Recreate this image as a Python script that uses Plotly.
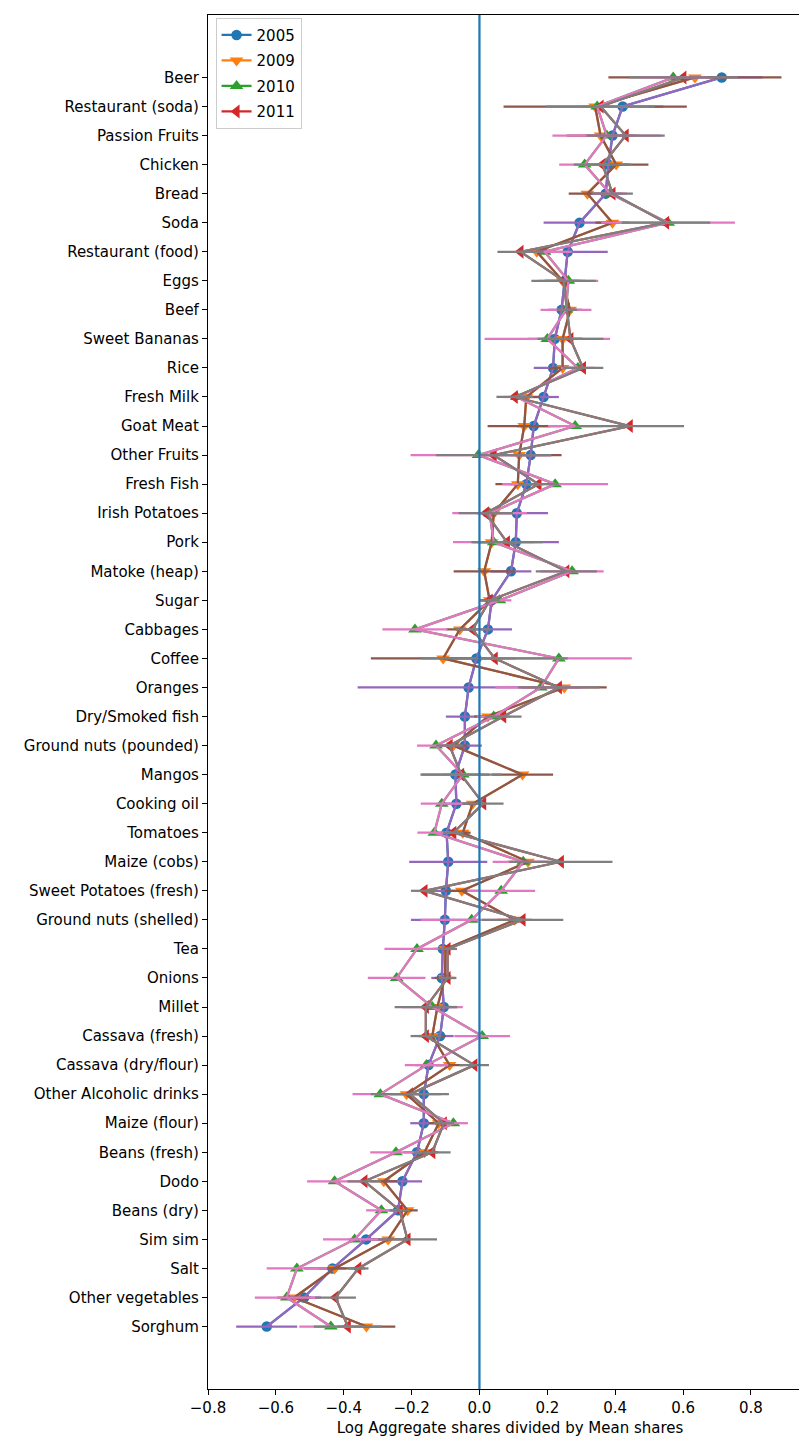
import plotly.graph_objects as go

categories = ["Beer", "Restaurant (soda)", "Passion Fruits", "Chicken", "Bread", "Soda",
              "Restaurant (food)", "Eggs", "Beef", "Sweet Bananas", "Rice", "Fresh Milk",
              "Goat Meat", "Other Fruits", "Fresh Fish", "Irish Potatoes", "Pork",
              "Matoke (heap)", "Sugar", "Cabbages", "Coffee", "Oranges", "Dry/Smoked fish",
              "Ground nuts (pounded)", "Mangos", "Cooking oil", "Tomatoes", "Maize (cobs)",
              "Sweet Potatoes (fresh)", "Ground nuts (shelled)", "Tea", "Onions", "Millet",
              "Cassava (fresh)", "Cassava (dry/flour)", "Other Alcoholic drinks",
              "Maize (flour)", "Beans (fresh)", "Dodo", "Beans (dry)", "Sim sim", "Salt",
              "Other vegetables", "Sorghum"]

years = ["2005", "2009", "2010", "2011"]

v2005 = [0.714, 0.422, 0.392, 0.380, 0.372, 0.295, 0.260, 0.251, 0.242, 0.222, 0.217, 0.189,
         0.160, 0.151, 0.138, 0.110, 0.107, 0.093, 0.036, 0.025, -0.009, -0.032, -0.043,
         -0.043, -0.071, -0.068, -0.097, -0.092, -0.099, -0.102, -0.108, -0.111, -0.105,
         -0.116, -0.150, -0.164, -0.164, -0.184, -0.227, -0.240, -0.334, -0.433, -0.517, -0.627]
v2009 = [0.635, 0.341, 0.357, 0.403, 0.318, 0.392, 0.169, 0.245, 0.267, 0.245, 0.245, 0.138,
         0.132, 0.117, 0.113, 0.042, 0.036, 0.014, 0.030, -0.058, -0.107, 0.250, 0.025,
         -0.077, 0.127, -0.020, -0.049, 0.143, -0.052, 0.104, -0.100, -0.102, -0.124,
         -0.139, -0.088, -0.215, -0.120, -0.162, -0.282, -0.212, -0.269, -0.427, -0.546, -0.333]
v2010 = [0.571, 0.347, 0.375, 0.310, 0.385, 0.556, 0.192, 0.262, 0.255, 0.200, 0.290, 0.110,
         0.282, -0.003, 0.223, 0.030, 0.042, 0.273, 0.059, -0.190, 0.234, 0.181, 0.042,
         -0.128, -0.049, -0.111, -0.133, 0.129, 0.064, -0.023, -0.184, -0.244, -0.139,
         0.008, -0.156, -0.292, -0.077, -0.246, -0.427, -0.289, -0.368, -0.538, -0.568, -0.438]
v2011 = [0.601, 0.357, 0.431, 0.363, 0.392, 0.550, 0.121, 0.248, 0.258, 0.268, 0.305, 0.104,
         0.443, 0.042, 0.174, 0.019, 0.081, 0.256, 0.030, -0.020, 0.045, 0.234, 0.070,
         -0.088, -0.054, 0.011, -0.077, 0.240, -0.162, 0.127, -0.094, -0.094, -0.158,
         -0.158, -0.015, -0.205, -0.105, -0.139, -0.339, -0.235, -0.212, -0.357, -0.424, -0.388]

e2005 = [0.12, 0.12, 0.08, 0.06, 0.05, 0.106, 0.118, 0.06, 0.04, 0.08, 0.057, 0.045,
         0.05, 0.06, 0.05, 0.092, 0.127, 0.06, 0.03, 0.071, 0.08, 0.327, 0.056,
         0.05, 0.10, 0.04, 0.04, 0.115, 0.05, 0.10, 0.03, 0.031, 0.04,
         0.04, 0.04, 0.05, 0.04, 0.04, 0.058, 0.04, 0.05, 0.04, 0.05, 0.09]
e2009 = [0.255, 0.27, 0.10, 0.095, 0.055, 0.05, 0.06, 0.05, 0.035, 0.06, 0.04, 0.04,
         0.108, 0.125, 0.066, 0.05, 0.04, 0.09, 0.03, 0.04, 0.213, 0.125, 0.04,
         0.04, 0.09, 0.04, 0.023, 0.06, 0.05, 0.05, 0.03, 0.03, 0.04,
         0.04, 0.04, 0.05, 0.03, 0.04, 0.04, 0.03, 0.05, 0.09, 0.05, 0.085]
e2010 = [0.10, 0.15, 0.16, 0.075, 0.05, 0.197, 0.08, 0.088, 0.075, 0.185, 0.05, 0.04,
         0.08, 0.20, 0.156, 0.11, 0.12, 0.093, 0.035, 0.096, 0.215, 0.134, 0.05,
         0.056, 0.06, 0.062, 0.05, 0.09, 0.10, 0.15, 0.096, 0.085, 0.09,
         0.082, 0.064, 0.082, 0.043, 0.076, 0.081, 0.045, 0.093, 0.089, 0.094, 0.093]
e2011 = [0.16, 0.16, 0.115, 0.085, 0.06, 0.13, 0.068, 0.095, 0.03, 0.097, 0.06, 0.054,
         0.16, 0.17, 0.06, 0.08, 0.105, 0.09, 0.03, 0.05, 0.215, 0.12, 0.054,
         0.04, 0.12, 0.06, 0.03, 0.152, 0.04, 0.12, 0.028, 0.026, 0.092,
         0.045, 0.043, 0.115, 0.03, 0.054, 0.05, 0.03, 0.087, 0.03, 0.06, 0.10]

values = [v2005, v2009, v2010, v2011]
errors = [e2005, e2009, e2010, e2011]

marker_colors = ["#1f77b4", "#ff7f0e", "#2ca02c", "#d62728"]
line_colors = ["#9467bd", "#8c564b", "#e377c2", "#7f7f7f"]
symbols = ["circle", "triangle-down", "triangle-up", "triangle-left"]
sizes = [10.5, 12, 12, 12]

x_ticks = [-0.8, -0.6, -0.4, -0.2, 0.0, 0.2, 0.4, 0.6, 0.8]
x_ticktext = [("−" if t < 0 else "") + f"{abs(t):.1f}" for t in x_ticks]

FONT = "DejaVu Sans"
FS = 15
LW = 2.25

fig = go.Figure()

# markers (their own lines are hidden beneath the error-bar lines)
for yr, vals, mc, sym, sz in zip(years, values, marker_colors, symbols, sizes):
    fig.add_trace(go.Scatter(
        x=vals, y=categories, mode="lines+markers", name=yr, legendgroup=yr,
        line=dict(color=mc, width=LW),
        marker=dict(color=mc, symbol=sym, size=sz, line=dict(width=0)),
        hoverinfo="skip"))

# error bar series with connecting lines
for yr, vals, errs, lc in zip(years, values, errors, line_colors):
    fig.add_trace(go.Scatter(
        x=vals, y=categories, mode="lines", showlegend=False,
        line=dict(color=lc, width=LW),
        error_x=dict(type="data", array=errs, symmetric=True, color=lc,
                     thickness=LW, width=0),
        hoverinfo="skip"))

n = len(categories)
fig.add_shape(type="line", x0=0, x1=0, y0=0, y1=1, xref="x", yref="paper",
              line=dict(color="#1f77b4", width=LW), layer="above")

fig.update_layout(
    width=807, height=1447,
    margin=dict(l=200, r=3, t=7, b=66),
    plot_bgcolor="white", paper_bgcolor="white",
    font=dict(family=FONT, size=FS, color="black"),
    showlegend=True,
    legend=dict(x=0.0125, y=0.998, xanchor="left", yanchor="top",
                bgcolor="rgba(255,255,255,0.8)", bordercolor="#cccccc", borderwidth=1,
                font=dict(family=FONT, size=FS, color="black"),
                tracegroupgap=3, itemwidth=30),
    xaxis=dict(range=[-0.8, 0.98], tickvals=x_ticks, ticktext=x_ticktext,
               showgrid=False, zeroline=False, showline=True, mirror=True,
               linecolor="black", linewidth=1.2, ticks="outside", ticklen=5,
               tickwidth=1.2, tickcolor="black",
               tickfont=dict(family=FONT, size=FS, color="black"),
               title=dict(text="Log Aggregate shares divided by Mean shares",
                          font=dict(family=FONT, size=FS, color="black"),
                          standoff=6)),
    yaxis=dict(type="category", categoryorder="array", categoryarray=categories,
               range=[n - 1 + 2.15, -2.15],
               showgrid=False, zeroline=False, showline=True, mirror=True,
               linecolor="black", linewidth=1.2, ticks="outside", ticklen=5,
               tickwidth=1.2, tickcolor="black",
               tickfont=dict(family=FONT, size=FS, color="black")),
)

fig.write_html("out.html")
